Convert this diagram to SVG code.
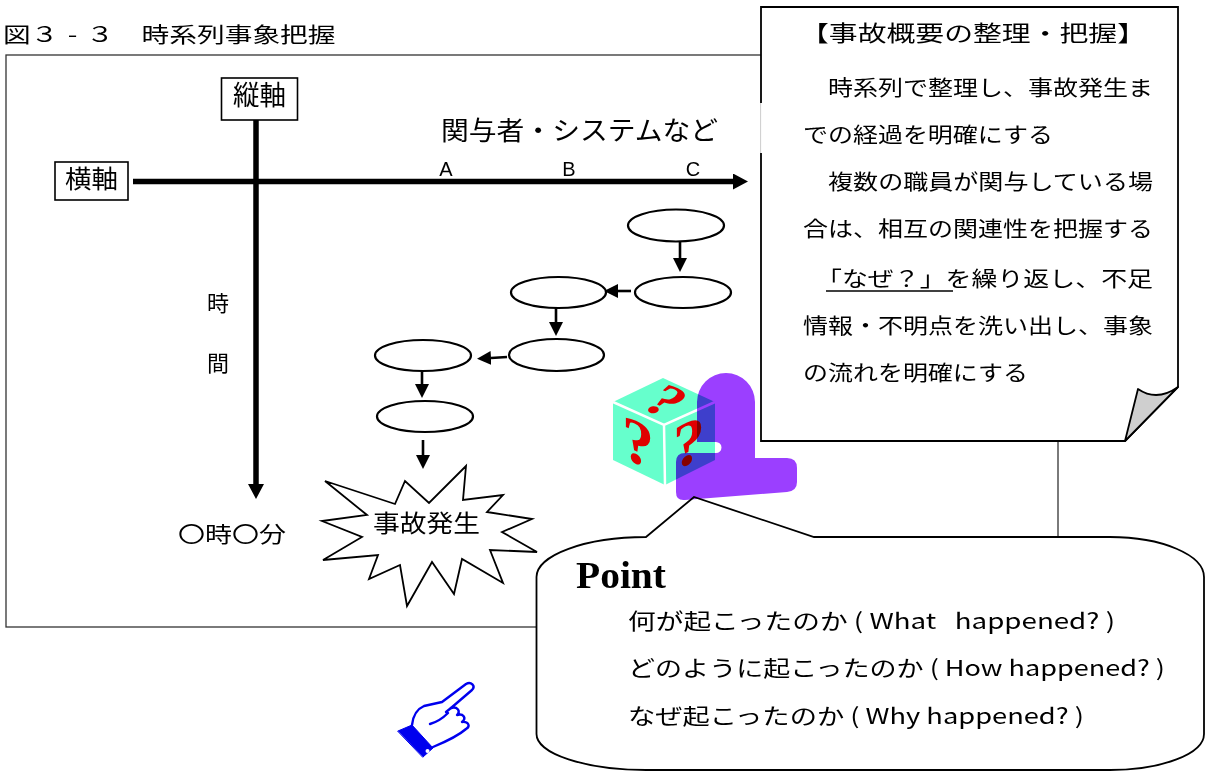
<svg xmlns="http://www.w3.org/2000/svg" width="1205" height="771" viewBox="0 0 1205 771">
  <style>
    .jp { font-family: "Noto Sans CJK JP", "Noto Sans", sans-serif; fill: #000; }
    .lat { font-family: "Liberation Sans", Arial, sans-serif; fill: #000; }
    .box { fill: #fff; stroke: #000; stroke-width: 1.6; }
    .oval { fill: #fff; stroke: #000; stroke-width: 2.2; }
    .flow { stroke: #000; stroke-width: 2.6; fill: none; marker-end: url(#head-s); }
    .axis { stroke: #000; stroke-width: 5.5; fill: none; marker-end: url(#head-l); }
    .q { font-family: "Liberation Serif", "Times New Roman", serif; font-weight: bold; fill: #e00000; }
  </style>
  <defs>
    <marker id="head-s" viewBox="0 0 14 14" refX="0" refY="7" markerWidth="14" markerHeight="14" markerUnits="userSpaceOnUse" orient="auto">
      <path d="M0,0 L14,7 L0,14 Z" fill="#000"/>
    </marker>
    <marker id="head-l" viewBox="0 0 15 16" refX="0" refY="8" markerWidth="15" markerHeight="16" markerUnits="userSpaceOnUse" orient="auto">
      <path d="M0,0 L15,8 L0,16 Z" fill="#000"/>
    </marker>
  </defs>

  <rect width="1205" height="771" fill="#fff"/>

  <!-- figure caption: full-width cells, stretched horizontally -->
  <text id="caption" class="jp" font-size="21" transform="translate(3,42) scale(1.32,1)"><tspan x="0" y="0">図３</tspan><tspan x="49" y="0">-</tspan><tspan x="63" y="0">３　時系列事象把握</tspan></text>

  <!-- outer frame -->
  <rect id="frame" x="6" y="55" width="1052" height="572" fill="none" stroke="#333" stroke-width="1.3"/>

  <!-- axes and flow arrows -->
  <g id="connectors">
    <line class="axis" x1="133" y1="181.5" x2="733" y2="181.5"/>
    <line class="axis" x1="256" y1="120" x2="256" y2="484"/>
    <line class="flow" x1="680" y1="242" x2="680" y2="258"/>
    <line class="flow" x1="631" y1="291" x2="618" y2="291"/>
    <line class="flow" x1="556" y1="308" x2="556" y2="322"/>
    <line class="flow" x1="507" y1="357" x2="491" y2="358"/>
    <line class="flow" x1="422" y1="371" x2="422" y2="384"/>
    <line class="flow" x1="423" y1="440" x2="423" y2="455"/>
  </g>

  <g id="axis-vertical">
    <rect class="box" x="221.5" y="78" width="76" height="42"/>
    <text class="jp" x="233" y="105" font-size="27" textLength="53" lengthAdjust="spacingAndGlyphs">縦軸</text>
  </g>
  <g id="axis-horizontal">
    <rect class="box" x="55" y="162" width="73" height="38"/>
    <text class="jp" x="65" y="188" font-size="25" textLength="53" lengthAdjust="spacingAndGlyphs">横軸</text>
  </g>

  <g id="label-actors">
    <text class="jp" x="441" y="140" font-size="26" textLength="277" lengthAdjust="spacingAndGlyphs">関与者・システムなど</text>
    <text class="lat" x="446" y="176" font-size="20" text-anchor="middle">A</text>
    <text class="lat" x="569" y="176" font-size="20" text-anchor="middle">B</text>
    <text class="lat" x="693" y="176" font-size="20" text-anchor="middle">C</text>
  </g>

  <g id="label-time">
    <text class="jp" x="207" y="311" font-size="22">時</text>
    <text class="jp" x="207" y="371" font-size="22">間</text>
    <text class="jp" x="178" y="542" font-size="22" textLength="108" lengthAdjust="spacingAndGlyphs">〇時〇分</text>
  </g>

  <!-- event chain -->
  <g id="event-1"><ellipse class="oval" cx="676" cy="225.5" rx="48" ry="16"/></g>
  <g id="event-2"><ellipse class="oval" cx="683" cy="292.5" rx="48" ry="15.5"/></g>
  <g id="event-3"><ellipse class="oval" cx="558.5" cy="292.5" rx="47.5" ry="15.5"/></g>
  <g id="event-4"><ellipse class="oval" cx="556.5" cy="355" rx="47.5" ry="16"/></g>
  <g id="event-5"><ellipse class="oval" cx="423" cy="355.5" rx="48" ry="15.5"/></g>
  <g id="event-6"><ellipse class="oval" cx="425" cy="416.5" rx="48" ry="15.5"/></g>

  <g id="accident">
    <polygon fill="#fff" stroke="#000" stroke-width="1.8" stroke-linejoin="miter"
      points="325,481 395,504 405,481 429,503 466,466 463,500 503,495 487,512 532,519 502,532 537,552 490,550 503,583 462,559 454,594 432,562 407,606 400,565 369,579 378,555 323,560 362,537 322,521 367,515"/>
    <text class="jp" x="373" y="532" font-size="24" textLength="107" lengthAdjust="spacingAndGlyphs">事故発生</text>
  </g>

  <!-- note card with folded corner -->
  <g id="note">
    <path d="M761,7 H1178 V387 L1125,441 H761 Z" fill="#fff" stroke="#000" stroke-width="1.8" stroke-linejoin="miter"/>
    <rect x="757" y="103" width="5" height="50" fill="#fff"/>
    <line x1="760.6" y1="103" x2="760.6" y2="153" stroke="#aaa" stroke-width="0.6"/>
    <path d="M1125,441 L1138,389 Q1157,402 1178,387 Z" fill="#cfcfcf" stroke="#000" stroke-width="1.8" stroke-linejoin="round"/>
    <text class="jp" x="800" y="41" font-size="22" textLength="346" lengthAdjust="spacingAndGlyphs">【事故概要の整理・把握】</text>
    <text class="jp" x="803" y="95" font-size="21" textLength="350" lengthAdjust="spacingAndGlyphs">　時系列で整理し、事故発生ま</text>
    <text class="jp" x="803" y="142" font-size="21" textLength="250" lengthAdjust="spacingAndGlyphs">での経過を明確にする</text>
    <text class="jp" x="803" y="189" font-size="21" textLength="350" lengthAdjust="spacingAndGlyphs">　複数の職員が関与している場</text>
    <text class="jp" x="803" y="236" font-size="21" textLength="350" lengthAdjust="spacingAndGlyphs">合は、相互の関連性を把握する</text>
    <text class="jp" x="803" y="286" font-size="21" textLength="350" lengthAdjust="spacingAndGlyphs">　「なぜ？」を繰り返し、不足</text>
    <line x1="826" y1="291" x2="953" y2="291" stroke="#000" stroke-width="1.6"/>
    <text class="jp" x="803" y="333" font-size="21" textLength="350" lengthAdjust="spacingAndGlyphs">情報・不明点を洗い出し、事象</text>
    <text class="jp" x="803" y="380" font-size="21" textLength="225" lengthAdjust="spacingAndGlyphs">の流れを明確にする</text>
  </g>

  <!-- point callout -->
  <g id="point">
    <path d="M646,537 L694,497 L814,537 L1110,537 A94,40 0 0 1 1204,577 L1204,734 A94,36 0 0 1 1110,770 L646,770 A110,36 0 0 1 536.5,734 L536.5,577 A110,40 0 0 1 646,537 Z" fill="#fff" stroke="#000" stroke-width="1.8"/>
    <text x="576" y="588" font-family="Liberation Serif, Times New Roman, serif" font-weight="bold" font-size="38" textLength="90" lengthAdjust="spacingAndGlyphs">Point</text>
    <text class="jp" x="628" y="629" font-size="22" textLength="487" lengthAdjust="spacingAndGlyphs">何が起こったのか ( What&#160;&#160;&#160;happened? )</text>
    <text class="jp" x="628" y="676" font-size="22" textLength="537" lengthAdjust="spacingAndGlyphs">どのように起こったのか ( How happened? )</text>
    <text class="jp" x="628" y="724" font-size="22" textLength="456" lengthAdjust="spacingAndGlyphs">なぜ起こったのか ( Why happened? )</text>
  </g>

  <!-- question cube -->
  <g id="question-cube">
    <polygon points="663,378 715,402 715,460 665,485 613,460 613,402" fill="#66ffcc"/>
    <path d="M613,402 L664,425 L715,402 M664,425 L665,485" stroke="#fff" stroke-width="2.5" fill="none"/>
    <text class="q" font-size="66" text-anchor="middle" transform="translate(666,401) matrix(0.78,0.38,-0.62,0.55,0,0)" y="22">?</text>
    <text class="q" font-size="64" text-anchor="middle" transform="translate(638,443) skewY(24)" y="21">?</text>
    <text class="q" font-size="64" text-anchor="middle" transform="translate(689,443) skewY(-23)" y="21">?</text>
  </g>

  <!-- purple badge -->
  <g id="badge">
    <path d="M697,442 L697,402 A29,29 0 0 1 755,402 L755,458 L787,458 Q797,458 797,468 L797,482 Q797,491 787,492 L685,500 Q676,501 676,492 L676,462 Q676,453 685,453 L716,453 A5.5,5.5 0 0 0 716,442 Z"
      fill="#9b3fff" style="mix-blend-mode:multiply"/>
  </g>

  <!-- pointing hand -->
  <g id="hand" fill="none" stroke="#0000ee" stroke-width="2.4" stroke-linejoin="round" stroke-linecap="round">
    <polygon points="398,731 412,725 433,748 423,757" fill="#0000ee" stroke="#0000ee" stroke-width="1"/>
    <circle cx="427.5" cy="751" r="2" fill="#fff" stroke="none"/>
    <path d="M412,725 C413,716 417,709 424,706 L442,702 L466,684 C471,681 476,686 472,690 L451,708 C457,706 461,711 457,715 C463,713 467,718 462,722 C468,721 471,726 466,729 C458,736 445,742 433,747"/>
    <path d="M430,724 C437,722 443,718 448,713 M451,708 L446,712"/>
  </g>
</svg>
